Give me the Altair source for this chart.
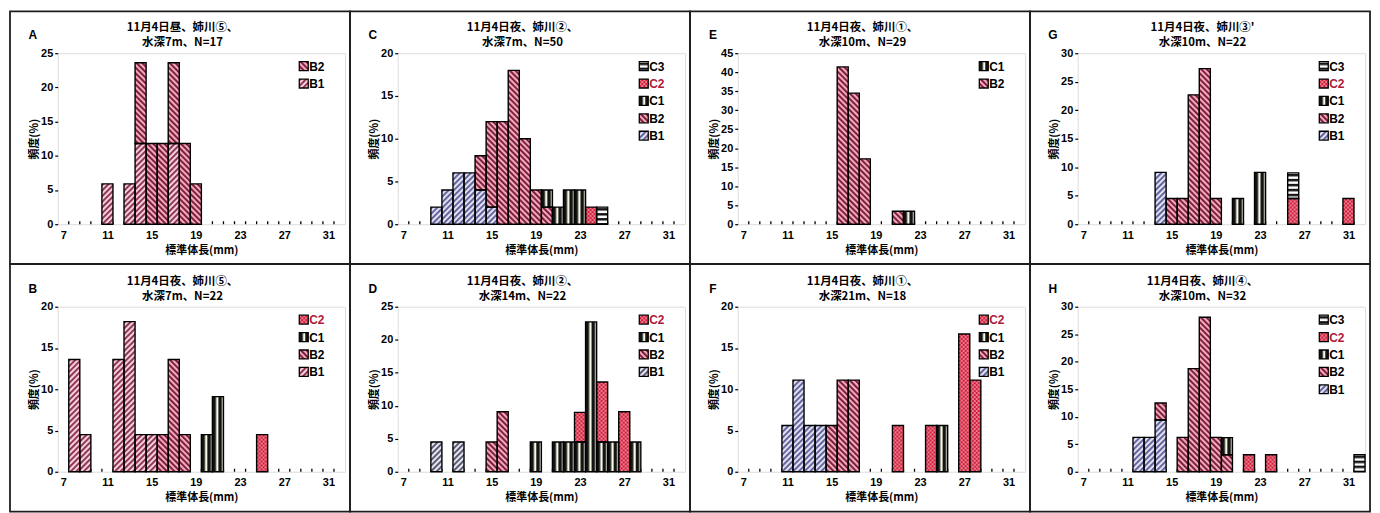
import base64
import altair as alt
import pandas as pd

# ---------------- data (percent of fish per 1-mm size class) ----------------
CATEGORIES = list(range(7, 33))          # size classes on the x axis (mm)
X_LABELS = [7, 11, 15, 19, 23, 27, 31]   # labelled classes
STACK_ORDER = ["B1", "B2", "C1", "C2", "C3"]

A_title = ["11月4日昼、姉川⑤、", "水深7m、N=17"]
A_size = [11, 13, 14, 14, 15, 16, 17, 17, 18, 19]
A_series = ["B1", "B1", "B1", "B2", "B2", "B2", "B1", "B2", "B2", "B2"]
A_pct = [5.9, 5.9, 11.8, 11.8, 11.8, 11.8, 11.8, 11.8, 11.8, 5.9]

B_title = ["11月4日夜、姉川⑤、", "水深7m、N=22"]
B_size = [8, 9, 12, 13, 14, 15, 16, 17, 18, 20, 21, 25]
B_series = ["B1", "B1", "B1", "B1", "B1", "B1", "B2", "B2", "B2", "C1", "C1", "C2"]
B_pct = [13.6, 4.5, 13.6, 18.2, 4.5, 4.5, 4.5, 13.6, 4.5, 4.5, 9.1, 4.5]

C_title = ["11月4日夜、姉川②、", "水深7m、N=50"]
C_size = [10, 11, 12, 13, 14, 15, 14, 15, 16, 17, 18, 19, 20, 20, 21, 22, 23, 24, 25]
C_series = ["B1", "B1", "B1", "B1", "B1", "B1", "B2", "B2", "B2", "B2", "B2", "B2",
            "B2", "C1", "C1", "C1", "C1", "C2", "C3"]
C_pct = [2, 4, 6, 6, 4, 2, 4, 10, 12, 18, 10, 4, 2, 2, 2, 4, 4, 2, 2]

D_title = ["11月4日夜、姉川②、", "水深14m、N=22"]
D_size = [10, 12, 15, 16, 19, 21, 22, 23, 24, 25, 26, 28, 23, 25, 27]
D_series = ["B1", "B1", "B2", "B2", "C1", "C1", "C1", "C1", "C1", "C1", "C1", "C1",
            "C2", "C2", "C2"]
D_pct = [4.5, 4.5, 4.5, 9.1, 4.5, 4.5, 4.5, 4.5, 22.7, 4.5, 4.5, 4.5, 4.5, 9.1, 9.1]

E_title = ["11月4日夜、姉川①、", "水深10m、N=29"]
E_size = [16, 17, 18, 21, 22]
E_series = ["B2", "B2", "B2", "B2", "C1"]
E_pct = [41.4, 34.5, 17.2, 3.4, 3.4]

F_title = ["11月4日夜、姉川①、", "水深21m、N=18"]
F_size = [11, 12, 13, 14, 15, 16, 17, 25, 21, 24, 27, 28]
F_series = ["B1", "B1", "B1", "B1", "B2", "B2", "B2", "C1", "C2", "C2", "C2", "C2"]
F_pct = [5.6, 11.1, 5.6, 5.6, 5.6, 11.1, 11.1, 5.6, 5.6, 5.6, 16.7, 11.1]

G_title = ["11月4日夜、姉川③'", "水深10m、N=22"]
G_size = [14, 15, 16, 17, 18, 19, 21, 23, 26, 31, 26]
G_series = ["B1", "B2", "B2", "B2", "B2", "B2", "C1", "C1", "C2", "C2", "C3"]
G_pct = [9.1, 4.5, 4.5, 22.7, 27.3, 4.5, 4.5, 9.1, 4.5, 4.5, 4.5]

H_title = ["11月4日夜、姉川④、", "水深10m、N=32"]
H_size = [12, 13, 14, 14, 16, 17, 18, 19, 20, 20, 22, 24, 32]
H_series = ["B1", "B1", "B1", "B2", "B2", "B2", "B2", "B2", "B2", "C1", "C2", "C2", "C3"]
H_pct = [6.25, 6.25, 9.4, 3.1, 6.25, 18.75, 28.1, 6.25, 3.1, 3.1, 3.1, 3.1, 3.1]

# ---------------- styles ----------------
CJK = "Noto Sans CJK JP"
LAT = "Liberation Sans"
W = 289
FL, FR = 48, 5          # frame margins left / right of the plot area

PATTERNS = {
    "B1_blue": ("fwd", "#e2e0f2", "#565a92", "#a9a9cc"),
    "B1_pink": ("fwd", "#f5d0dc", "#862848", "#d49aac"),
    "B1_gray": ("fwd", "#e6e6ee", "#4c4c66", "#a8a8b8"),
    "B2": ("back", "#f0aabd", "#74122e", "#c06080"),
    "C1": ("vert", "#f6f8e4", "#141414", "#606060"),
    "C2": ("dots", "#d41c3a", "#ffffff", "#d84a60"),
    "C3": ("horiz", "#ffffff", "#141414", "#808080"),
}


def pattern_url(kind, bg, fg):
    if kind in ("fwd", "back"):
        rot = 45 if kind == "fwd" else -45
        pat = (f'<pattern id="p" patternUnits="userSpaceOnUse" width="4" height="4" '
               f'patternTransform="rotate({rot})"><rect width="4" height="4" fill="{bg}"/>'
               f'<rect width="1.8" height="4" fill="{fg}"/></pattern>')
    elif kind == "vert":
        pat = (f'<pattern id="p" patternUnits="userSpaceOnUse" width="6" height="6">'
               f'<rect width="6" height="6" fill="{bg}"/><rect width="3.6" height="6" fill="{fg}"/></pattern>')
    elif kind == "horiz":
        pat = (f'<pattern id="p" patternUnits="userSpaceOnUse" width="5" height="5">'
               f'<rect width="5" height="5" fill="{bg}"/><rect y="1" width="5" height="2.5" fill="{fg}"/></pattern>')
    else:
        pat = (f'<pattern id="p" patternUnits="userSpaceOnUse" width="4" height="4">'
               f'<rect width="4" height="4" fill="{bg}"/><circle cx="1" cy="1" r="0.8" fill="{fg}"/>'
               f'<circle cx="3" cy="3" r="0.8" fill="{fg}"/></pattern>')
    svg = ('<svg xmlns="http://www.w3.org/2000/svg" width="100%" height="100%"><defs>' + pat +
           '</defs><rect width="100%" height="100%" fill="url(#p)"/></svg>')
    return "data:image/svg+xml;base64," + base64.b64encode(svg.encode()).decode()


def style_key(series, b1_variant):
    return "B1_" + b1_variant if series == "B1" else series


def make_panel(letter, title, size, series, pct, ymax, b1_variant, H, T, B):
    df = pd.DataFrame({"size": size, "series": series, "pct": pct})
    df["rank"] = df["series"].map(STACK_ORDER.index)
    df = df.sort_values(["size", "rank"]).reset_index(drop=True)
    df["y1"] = df.groupby("size")["pct"].cumsum()
    df["y0"] = df["y1"] - df["pct"]
    df["x0"] = df["size"] - 0.5
    df["x1"] = df["size"] + 0.5
    df["url"] = [pattern_url(*PATTERNS[style_key(s, b1_variant)][:3]) for s in df["series"]]
    df["fill"] = [PATTERNS[style_key(s, b1_variant)][3] for s in df["series"]]

    xs = alt.Scale(domain=[CATEGORIES[0] - 0.5, CATEGORIES[-1] + 0.5], nice=False, zero=False)
    ys = alt.Scale(domain=[0, ymax], nice=False)
    xaxis = alt.Axis(values=X_LABELS, ticks=False, domain=False, grid=False,
                     labelFont=LAT, labelFontSize=11, labelFontWeight="bold", labelColor="black",
                     labelPadding=5, title="標準体長(mm)", titleFont=CJK, titleFontSize=11,
                     titleFontWeight="bold", titleColor="black", titlePadding=4)
    yaxis = alt.Axis(values=list(range(0, ymax + 1, 5)), tickSize=3, tickColor="black",
                     tickWidth=1.2, domain=False, grid=False,
                     labelFont=LAT, labelFontSize=11, labelFontWeight="bold", labelColor="black",
                     labelPadding=2, title="頻度(%)", titleFont=CJK, titleFontSize=11,
                     titleFontWeight="bold", titleColor="black", titlePadding=1)

    def X(f):
        return alt.X(f, scale=xs, axis=xaxis)

    def Y(f):
        return alt.Y(f, scale=ys, axis=yaxis)

    # panel frame (decoration around each panel, as in the printed figure)
    frame = alt.Chart(pd.DataFrame({"f": [0]})).mark_rect(
        fill="transparent", stroke="#1e1e1e", strokeWidth=1.8).encode(
        x=alt.value(-FL), x2=alt.value(W + FR), y=alt.value(-T), y2=alt.value(H + B))

    bounds = pd.DataFrame({"b": [c + 0.5 for c in CATEGORIES[:-1]]})
    bumps = alt.Chart(bounds).mark_rule(color="black", strokeWidth=1.3).encode(
        x=X("b:Q"), y=alt.value(H), y2=alt.value(H - 3))

    base = alt.Chart(df)
    fill = base.mark_rect().encode(x=X("x0:Q"), x2="x1:Q", y=Y("y0:Q"), y2="y1:Q",
                                   fill=alt.Fill("fill:N", scale=None))
    img = base.mark_image(aspect=False).encode(x=X("x0:Q"), x2="x1:Q", y=Y("y0:Q"), y2="y1:Q",
                                               url="url:N")
    outline = base.mark_rect(fill="transparent", stroke="black", strokeWidth=1.4).encode(
        x=X("x0:Q"), x2="x1:Q", y=Y("y0:Q"), y2="y1:Q")

    layers = [frame, bumps, fill, img, outline]

    present = [s for s in reversed(STACK_ORDER) if s in set(series)]
    for i, s in enumerate(present):
        py = 8.5 + i * 17.5
        k = style_key(s, b1_variant)
        ldf = pd.DataFrame({"label": [s], "url": [pattern_url(*PATTERNS[k][:3])]})
        lb = alt.Chart(ldf)
        layers.append(lb.mark_image(aspect=False).encode(
            x=alt.value(W - 46), x2=alt.value(W - 37), y=alt.value(py), y2=alt.value(py + 9),
            url="url:N"))
        layers.append(lb.mark_rect(fill="transparent", stroke="black", strokeWidth=1.3).encode(
            x=alt.value(W - 46), x2=alt.value(W - 37), y=alt.value(py), y2=alt.value(py + 9)))
        layers.append(lb.mark_text(align="left", baseline="middle", font=LAT, fontSize=12,
                                   fontWeight="bold").encode(
            x=alt.value(W - 36), y=alt.value(py + 5), text="label:N",
            color=alt.value("#b0183a" if s == "C2" else "black")))

    # panel letter and two-line panel heading
    heads = pd.DataFrame({"t": [letter, title[0], title[1]],
                          "row": ["tag", "l1", "l2"]})
    hb = alt.Chart(heads)
    layers.append(hb.transform_filter(alt.datum.row == "tag").mark_text(
        font=LAT, fontSize=12, fontWeight="bold", align="center", baseline="middle").encode(
        x=alt.value(-25), y=alt.value(-18), text="t:N", color=alt.value("black")))
    layers.append(hb.transform_filter(alt.datum.row == "l1").mark_text(
        font=CJK, fontSize=11.5, fontWeight="bold", align="center", baseline="middle").encode(
        x=alt.value(W / 2 - 19), y=alt.value(-25), text="t:N", color=alt.value("black")))
    layers.append(hb.transform_filter(alt.datum.row == "l2").mark_text(
        font=CJK, fontSize=11.5, fontWeight="bold", align="center", baseline="middle").encode(
        x=alt.value(W / 2 - 19), y=alt.value(-10), text="t:N", color=alt.value("black")))

    return alt.layer(*layers).properties(width=W, height=H)


ROW1 = dict(H=172, T=42, B=40)
ROW2 = dict(H=166, T=43, B=40)

PANELS = [
    ("A", A_title, A_size, A_series, A_pct, 25, "pink", ROW1),
    ("C", C_title, C_size, C_series, C_pct, 20, "blue", ROW1),
    ("E", E_title, E_size, E_series, E_pct, 45, "blue", ROW1),
    ("G", G_title, G_size, G_series, G_pct, 30, "blue", ROW1),
    ("B", B_title, B_size, B_series, B_pct, 20, "pink", ROW2),
    ("D", D_title, D_size, D_series, D_pct, 25, "gray", ROW2),
    ("F", F_title, F_size, F_series, F_pct, 20, "blue", ROW2),
    ("H", H_title, H_size, H_series, H_pct, 30, "blue", ROW2),
]

charts = [make_panel(*p[:7], **p[7]) for p in PANELS]

chart = alt.concat(
    *charts, columns=4, bounds="flush",
    spacing={"column": FL + FR, "row": ROW1["B"] + ROW2["T"]}).resolve_scale(
    x="independent", y="independent").properties(
    padding={"left": 0, "top": 0, "right": 0, "bottom": 0}).configure_view(
    stroke="black", strokeWidth=1.6).configure(background="white")

chart.save("out.html", embed_options={"renderer": "svg", "actions": False})
